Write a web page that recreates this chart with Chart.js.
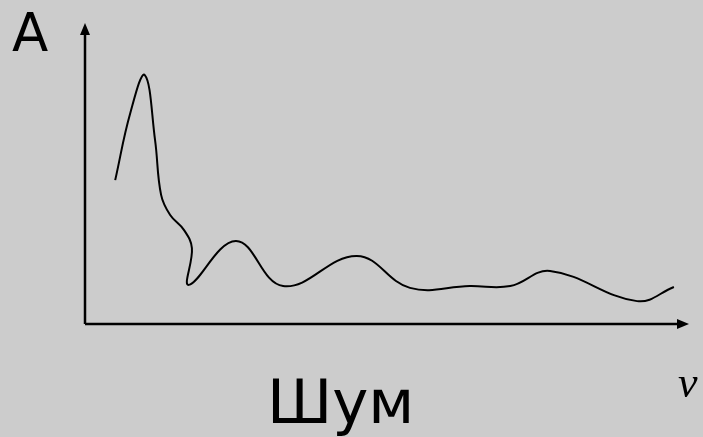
<!DOCTYPE html>
<html>
<head>
<meta charset="utf-8">
<script src="https://cdn.jsdelivr.net/npm/chart.js@4.4.0/dist/chart.umd.min.js"></script>
<style>
  html, body { margin: 0; padding: 0; background: #cccccc; }
  #wrap { width: 703px; height: 437px; }
</style>
</head>
<body>
<div id="wrap"><canvas id="myChart" width="703" height="437"></canvas></div>
<script>
// noise spectrum: frequency (x) and amplitude (y), axis units 0..100
const freq = [5.0, 7.5, 9.9, 11.6, 12.6, 14.1, 16.4, 17.7, 17.2, 25.0, 32.8, 45.0, 53.8, 63.7, 70.4, 77.0, 91.4, 97.5];
const amp  = [47.8, 70.1, 82.7, 61.1, 42.9, 36.2, 31.2, 25.2, 13.0, 27.6, 12.6, 22.6, 12.0, 12.6, 12.6, 17.6, 7.6, 12.3];
const yLabel = "A";
const xLabel = "ν";
const title = "Шум";

const points = freq.map((f, i) => ({ x: f, y: amp[i] }));

/* axes with arrows + labels */
const axesPlugin = {
  id: "axesArrows",
  afterDraw(chart) {
    const c = chart.ctx;
    const xs = chart.scales.x, ys = chart.scales.y;
    const x0 = xs.getPixelForValue(0), x1 = xs.getPixelForValue(100);
    const y0 = ys.getPixelForValue(0), y1 = ys.getPixelForValue(100);
    c.save();
    c.strokeStyle = "#000";
    c.fillStyle = "#000";
    c.lineWidth = 2.5;
    c.beginPath();
    c.moveTo(x0, y0); c.lineTo(x0, y1 + 8);
    c.moveTo(x0, y0); c.lineTo(x1 - 8, y0);
    c.stroke();
    // arrow heads
    c.beginPath();
    c.moveTo(x0, y1); c.lineTo(x0 - 5, y1 + 12); c.lineTo(x0 + 5, y1 + 12); c.closePath();
    c.fill();
    c.beginPath();
    c.moveTo(x1, y0); c.lineTo(x1 - 12, y0 - 5); c.lineTo(x1 - 12, y0 + 5); c.closePath();
    c.fill();
    // texts
    c.textBaseline = "alphabetic";
    c.textAlign = "left";
    c.font = "53px 'DejaVu Sans'";
    c.fillText(yLabel, 12, 51);
    c.font = "61px 'DejaVu Sans'";
    c.fillText(title, 267, 423);
    c.font = "italic 44px 'Liberation Serif'";
    c.fillText(xLabel, 678, 397);
    c.restore();
  }
};

const ctx = document.getElementById("myChart");
const myChart = new Chart(ctx, {
  type: "scatter",
  data: {
    datasets: [{
      data: points,
      showLine: true,
      borderColor: "#000",
      borderWidth: 2,
      pointRadius: 0,
      tension: 0.4,
      fill: false
    }]
  },
  options: {
    responsive: false,
    animation: false,
    layout: { padding: { left: 85, top: 23, right: 14, bottom: 113 } },
    plugins: { legend: { display: false }, tooltip: { enabled: false } },
    scales: {
      x: { type: "linear", min: 0, max: 100, display: false },
      y: { type: "linear", min: 0, max: 100, display: false }
    }
  },
  plugins: [axesPlugin]
});
myChart;
</script>
</body>
</html>
